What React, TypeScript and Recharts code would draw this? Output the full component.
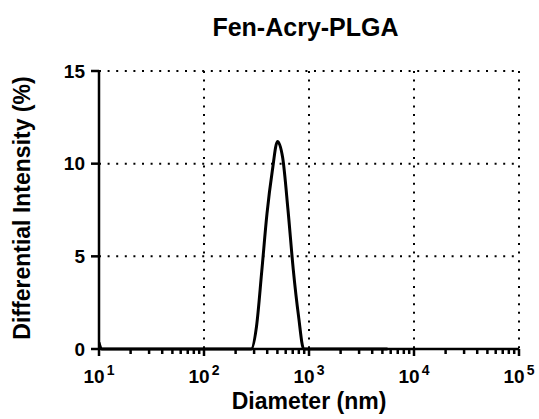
import React from 'react';
import { LineChart, Line, XAxis, YAxis, CartesianGrid } from 'recharts';

// Diameter bins (nm) and differential intensity (%)
const diameters = [10, 10.6, 20, 50, 100, 200, 282, 316, 355, 398, 447, 501, 562, 631, 708, 794, 891, 1000, 2000, 5600];
const intensity = [0.35, 0, 0, 0, 0, 0, 0, 1.2, 4.2, 7.3, 9.6, 11.2, 10.3, 7.5, 4.3, 1.8, 0, 0, 0, 0];

const majorTicks = [10, 100, 1000, 10000, 100000];
const minorTicks = [20, 30, 40, 50, 60, 70, 80, 90, 200, 300, 400, 500, 600, 700, 800, 900,
  2000, 3000, 4000, 5000, 6000, 7000, 8000, 9000, 20000, 30000, 40000, 50000, 60000, 70000, 80000, 90000];
const yTicks = [0, 5, 10, 15];

const data = diameters.map((d, i) => ({ d, v: intensity[i] }));
const allTicks = [...majorTicks, ...minorTicks].sort((a, b) => a - b);

const FONT = '"Liberation Sans", Arial, sans-serif';
const DOTS = '2 6.6';

const XTick = (props: any) => {
  const { x, y, payload } = props;
  const value = payload.value;
  const isMajor = majorTicks.includes(value);
  return (
    <g>
      <line x1={x} x2={x} y1={y} y2={y + (isMajor ? 7 : 5)} stroke="#000" strokeWidth={2.5} />
      {isMajor && (
        <text x={x} y={y + 34} textAnchor="middle" fontFamily={FONT} fontWeight="bold" fill="#000">
          <tspan fontSize={19}>10</tspan>
          <tspan fontSize={14} dx={2} dy={-8}>{Math.round(Math.log10(value))}</tspan>
        </text>
      )}
    </g>
  );
};

export default function App() {
  return (
    <div style={{ position: 'absolute', left: 0, top: 0, width: 539, height: 419, background: '#fff' }}>
      <div
        style={{
          position: 'absolute', left: 0, width: 611, top: 12, textAlign: 'center',
          fontFamily: FONT, fontWeight: 'bold', fontSize: 25, lineHeight: '30px', color: '#000',
        }}
      >
        Fen-Acry-PLGA
      </div>
      <LineChart width={539} height={419} data={data} margin={{ top: 71, right: 20, bottom: 0, left: 0 }}>
        <CartesianGrid
          stroke="#000"
          strokeWidth={2}
          strokeDasharray={DOTS}
          verticalValues={[100, 1000, 10000, 100000]}
        />
        <XAxis
          dataKey="d"
          type="number"
          scale="log"
          domain={[10, 100000]}
          ticks={allTicks}
          interval={0}
          height={70}
          tickSize={0}
          tickMargin={0}
          tickLine={false}
          tick={<XTick />}
          axisLine={{ stroke: '#000', strokeWidth: 2.5 }}
          allowDataOverflow
          label={({ viewBox }: any) => (
            <text
              x={viewBox.x + viewBox.width / 2}
              y={viewBox.y + 60}
              textAnchor="middle"
              fontFamily={FONT}
              fontWeight="bold"
              fontSize={23}
              fill="#000"
            >
              Diameter (nm)
            </text>
          )}
        />
        <YAxis
          type="number"
          domain={[0, 15]}
          ticks={yTicks}
          width={99}
          tickSize={8}
          tickMargin={6}
          tickLine={{ stroke: '#000', strokeWidth: 2.5 }}
          axisLine={{ stroke: '#000', strokeWidth: 2.5 }}
          tick={{ fill: '#000', fontSize: 19, fontWeight: 'bold', fontFamily: FONT }}
          label={({ viewBox }: any) => (
            <text
              x={30}
              y={viewBox.y + viewBox.height / 2 - 2}
              transform={`rotate(-90, 30, ${viewBox.y + viewBox.height / 2 - 2})`}
              textAnchor="middle"
              fontFamily={FONT}
              fontWeight="bold"
              fontSize={23}
              fill="#000"
            >
              Differential Intensity (%)
            </text>
          )}
        />
        <Line
          type="monotone"
          dataKey="v"
          stroke="#000"
          strokeWidth={3}
          dot={false}
          isAnimationActive={false}
        />
      </LineChart>
    </div>
  );
}
